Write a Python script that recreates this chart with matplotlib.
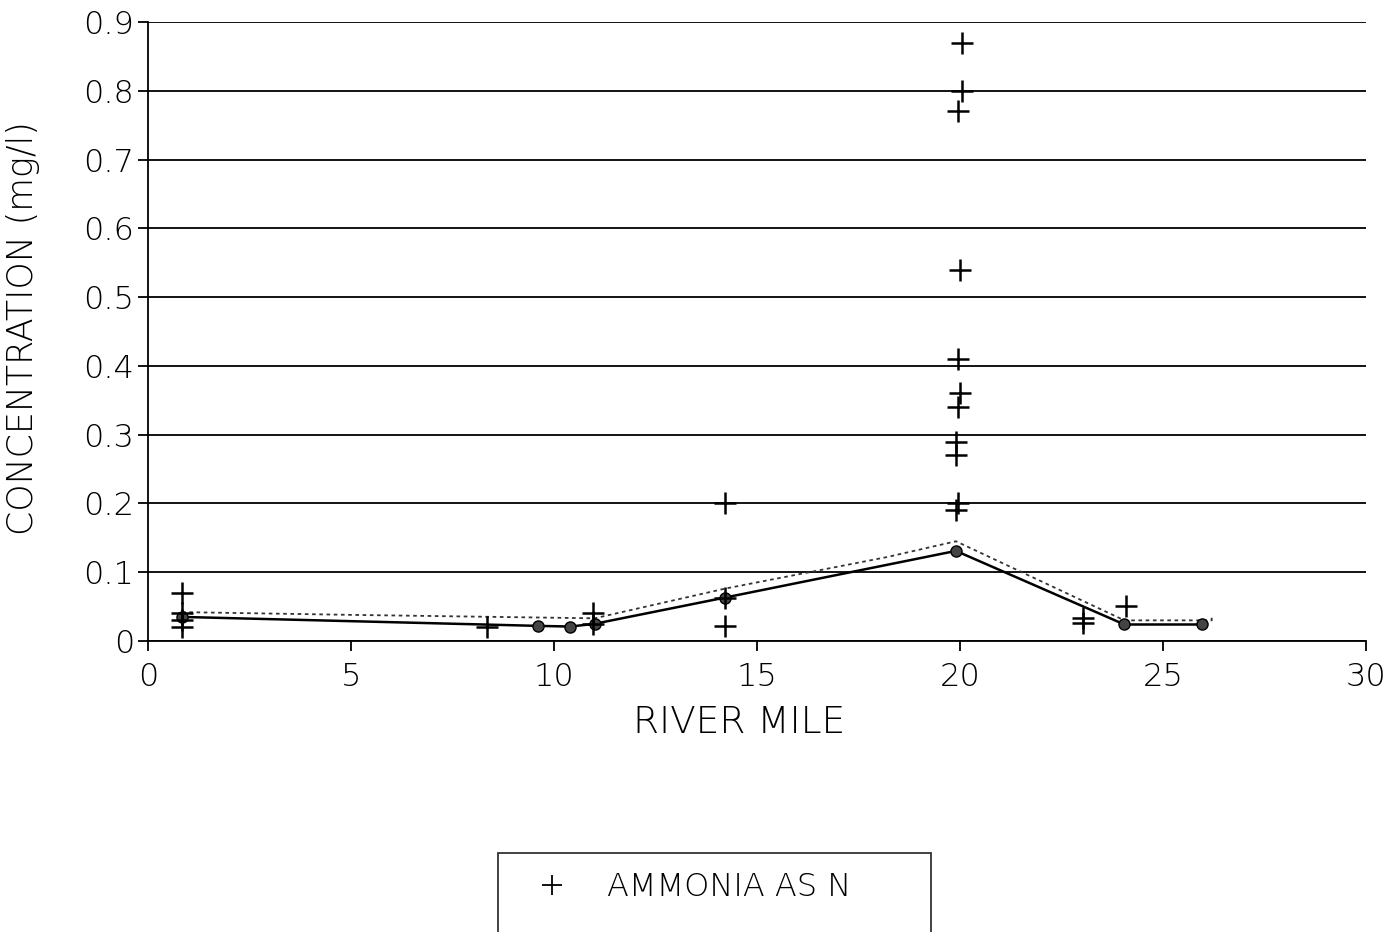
import matplotlib
matplotlib.use("Agg")
import matplotlib.pyplot as plt
from matplotlib.lines import Line2D

# individual ammonia samples (river mile, mg/l)
sample_mile = [0.84, 0.84, 0.84, 0.84, 8.35, 10.97, 10.97, 14.2, 14.2, 14.2,
               20.05, 20.05, 19.95, 20.0, 19.95, 20.0, 19.95, 19.9, 19.9,
               19.95, 19.9, 23.03, 23.03, 24.1]
sample_conc = [0.07, 0.04, 0.03, 0.02, 0.02, 0.04, 0.025, 0.2, 0.063, 0.022,
               0.87, 0.80, 0.77, 0.54, 0.41, 0.36, 0.34, 0.29, 0.27,
               0.20, 0.19, 0.034, 0.026, 0.051]

# station means (solid line)
mean_mile = [0.84, 9.6, 10.4, 11.0, 14.2, 19.9, 24.05, 25.95]
mean_conc = [0.035, 0.022, 0.021, 0.025, 0.063, 0.131, 0.024, 0.024]

# second trace (dotted)
dot_mile = [0.84, 5.0, 11.0, 14.2, 18.2, 19.9, 24.05, 26.2, 26.2]
dot_conc = [0.042, 0.038, 0.033, 0.076, 0.122, 0.145, 0.03, 0.03, 0.035]

xticks = [0, 5, 10, 15, 20, 25, 30]
yticks = [0, 0.1, 0.2, 0.3, 0.4, 0.5, 0.6, 0.7, 0.8, 0.9]
ytick_labels = ['0', '0.1', '0.2', '0.3', '0.4', '0.5', '0.6', '0.7', '0.8', '0.9']

plt.rcParams['font.family'] = ['DejaVu Sans']
plt.rcParams['font.weight'] = 'light'
plt.rcParams['axes.labelweight'] = 'light'

W, H = 1398, 932
fig = plt.figure(figsize=(W / 100, H / 100), dpi=100)
ax = fig.add_axes([148 / W, 1 - 641 / H, (1366 - 148) / W, (641 - 22) / H])

ax.plot(dot_mile, dot_conc, color='#333333', linestyle=(0, (2, 2)), linewidth=1.3)
ax.plot(mean_mile, mean_conc, color='black', linewidth=1.8, marker='o',
        markersize=8, markerfacecolor='#444444', markeredgecolor='black')
ax.plot(sample_mile, sample_conc, linestyle='none', marker='+', markersize=16,
        markeredgewidth=1.8, color='black')

ax.set_xlim(0, 30)
ax.set_ylim(0, 0.9)
ax.set_xticks(xticks)
ax.set_yticks(yticks)
ax.set_yticklabels(ytick_labels)
ax.tick_params(axis='both', labelsize=23, length=7, width=1.3, colors='black')
ax.tick_params(axis='x', pad=8)
ax.tick_params(axis='y', pad=3)

ax.grid(axis='y', color='black', linewidth=1.3)
ax.set_axisbelow(True)
for s in ['top', 'right']:
    ax.spines[s].set_visible(False)
for s in ['left', 'bottom']:
    ax.spines[s].set_linewidth(1.3)

ax.set_xlabel('RIVER MILE', fontsize=27, fontweight='light')
ax.xaxis.set_label_coords(0.485, -0.103)
ax.set_ylabel('CONCENTRATION (mg/l)', fontsize=25, fontweight='light')
ax.yaxis.set_label_coords(-0.089, 0.505)

# legend box, its lower part runs off the page
handles = [Line2D([], [], linestyle='none', marker='+', markersize=14,
                  markeredgewidth=1.3, color='black'),
           Line2D([], [], linestyle=(0, (3, 3)), linewidth=1.3, color='#888888')]
leg = fig.legend(handles, ['AMMONIA AS N      ', ' '], loc='upper left',
                 bbox_to_anchor=(498 / W, 1 - 853 / H), fontsize=23,
                 frameon=True, fancybox=False, edgecolor='black',
                 handlelength=2.2, handletextpad=0.6, borderpad=0.6,
                 labelspacing=1.0, borderaxespad=0)
leg.get_frame().set_linewidth(1.3)

fig.savefig('out.png', dpi=100)
